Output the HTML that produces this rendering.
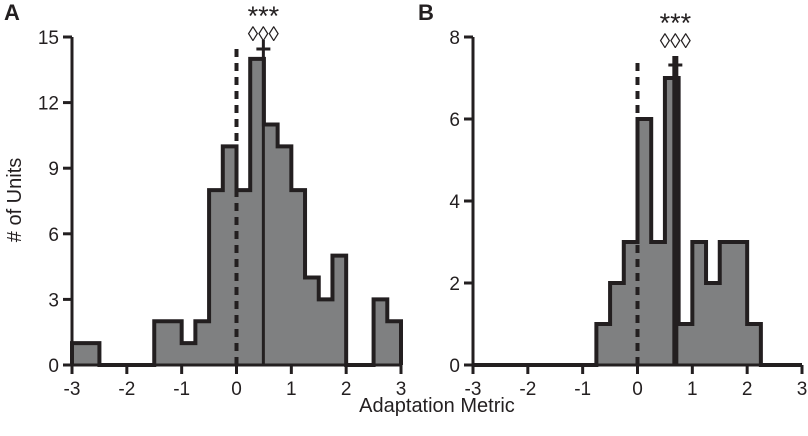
<!DOCTYPE html>
<html><head><meta charset="utf-8"><style>
body{margin:0;background:#fff}
svg{display:block;font-family:"Liberation Sans",Arial,sans-serif}
</style></head><body>
<svg id="c" width="808" height="436" viewBox="0 0 808 436" xmlns="http://www.w3.org/2000/svg"></svg>
<script>
// Panel A: bins of width 0.25 from -3 to 3
const binStart = -3, binWidth = 0.25;
const countsA = [1,1,0,0,0,0,2,2,1,2,8,10,8,14,11,10,8,4,3,5,0,0,3,2];
const countsB = [0,0,0,0,0,0,0,0,0,1,2,3,6,3,7,1,3,2,3,3,1,0,0,0];
const meanA = 0.49, meanB = 0.69;
const xTicks = [-3,-2,-1,0,1,2,3];
const yTicksA = [0,3,6,9,12,15];
const yTicksB = [0,2,4,6,8];

const NS = "http://www.w3.org/2000/svg";
const svg = document.getElementById('c');
function el(tag, attrs, parent){const e=document.createElementNS(NS,tag);for(const k in attrs)e.setAttribute(k,attrs[k]);(parent||svg).appendChild(e);return e;}

function panel(cfg){
  const g = el('g',{});
  
  
  const x = v => cfg.x0 + (v+3)*(cfg.x1-cfg.x0)/6;
  const y = v => cfg.y0 - v*(cfg.y0-cfg.y1)/cfg.ymax;
  let d = `M${x(binStart)},${y(0)}`;
  cfg.counts.forEach((c,i)=>{
    const a = binStart+i*binWidth, b = a+binWidth;
    d += ` L${x(a)},${y(c)} L${x(b)},${y(c)}`;
  });
  d += ` L${x(3)},${y(0)}`;
  const h = el('path',{d:d,fill:'#7f8081',stroke:'#231f20','stroke-width':4,'stroke-linejoin':'miter'},g);
  
  
  const z = el('line',{x1:x(0),x2:x(0),y1:y(0),y2:cfg.dashTop,stroke:'#231f20','stroke-width':4,'stroke-dasharray':'8,6'},g);
  
  
  const m = el('line',{x1:x(cfg.mean),x2:x(cfg.mean),y1:y(0),y2:cfg.plusY-9,stroke:'#231f20','stroke-width':cfg.meanW},g);
  
  
  const p = el('line',{x1:x(cfg.mean)-7,x2:x(cfg.mean)+7,y1:cfg.plusY,y2:cfg.plusY,stroke:'#231f20','stroke-width':3},g);
  
  
  const ax = el('path',{d:`M${cfg.x0},${cfg.y1} L${cfg.x0},${y(0)} L${cfg.x1},${y(0)}`,fill:'none',stroke:'#231f20','stroke-width':3},g);
  
  
  xTicks.forEach(t=>{
    el('line',{x1:x(t),x2:x(t),y1:y(0),y2:y(0)+9,stroke:'#231f20','stroke-width':3},g);
    const tx = el('text',{x:x(t),y:y(0)+30,'text-anchor':'middle','font-size':19,fill:'#231f20'},g);
    tx.textContent = t;
    
    
  });
  cfg.yTicks.forEach(t=>{
    el('line',{x1:cfg.x0-9,x2:cfg.x0,y1:y(t),y2:y(t),stroke:'#231f20','stroke-width':3},g);
    const tx = el('text',{x:cfg.x0-13,y:y(t)+7,'text-anchor':'end','font-size':19,fill:'#231f20'},g);
    tx.textContent = t;
    
    
  });
  const s = el('text',{x:x(cfg.mean),y:cfg.starY,'text-anchor':'middle','font-size':27,fill:'#231f20'},g);
  s.textContent='***';
  
  
  const dm = el('text',{x:x(cfg.mean),y:cfg.starY+16,'text-anchor':'middle','font-size':21,fill:'#231f20'},g);
  dm.textContent='◊◊◊';
  
  
  const L = el('text',{x:cfg.labelX,y:20,'font-size':22,'font-weight':'bold',fill:'#231f20'},g);
  L.textContent=cfg.label;
  
  
}
panel({name:'panel-a',counts:countsA,mean:meanA,x0:72,x1:401,y0:365,y1:37,ymax:15,yTicks:yTicksA,dashTop:44,plusY:49,starY:25,meanW:3,label:'A',labelX:4});
panel({name:'panel-b',counts:countsB,mean:meanB,x0:473,x1:802,y0:365,y1:37,ymax:8,yTicks:yTicksB,dashTop:62,plusY:65,starY:32,meanW:6,label:'B',labelX:418});

const xl = el('text',{x:437,y:412,'text-anchor':'middle','font-size':20,fill:'#231f20'});
xl.textContent='Adaptation Metric';


const yl = el('text',{x:0,y:0,'text-anchor':'middle','font-size':20,fill:'#231f20',transform:'translate(21,200) rotate(-90)'});
yl.textContent='# of Units';


</script>
</body></html>
